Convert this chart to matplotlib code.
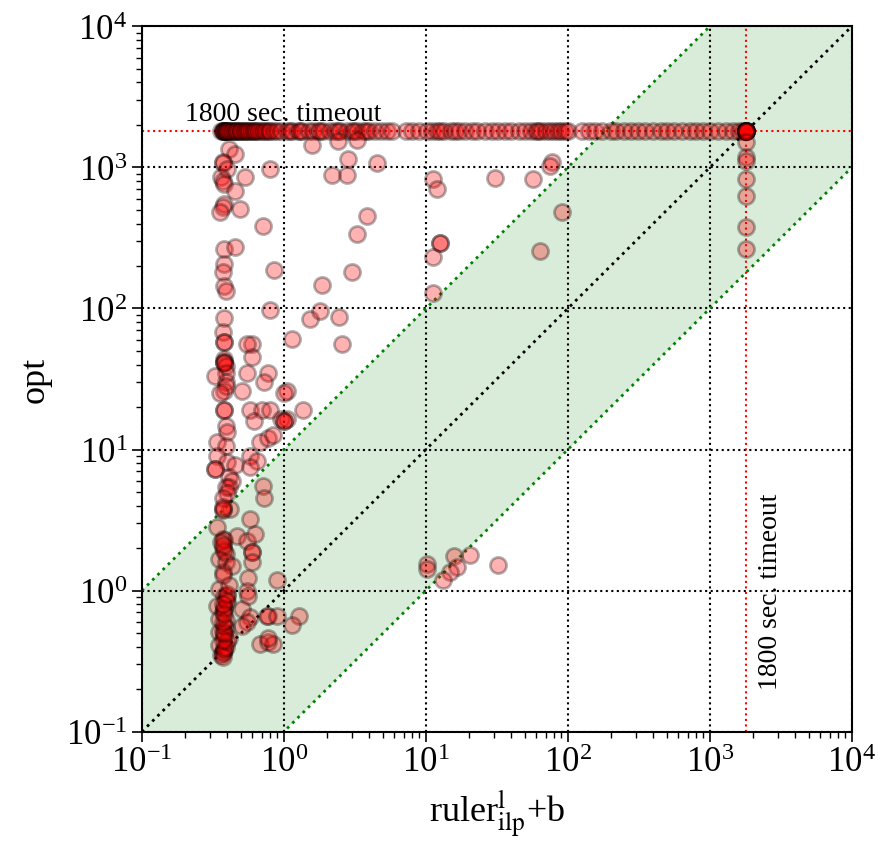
import numpy as np
import matplotlib
matplotlib.use('Agg')
import matplotlib.pyplot as plt

plt.rcParams['font.family'] = ['Liberation Serif', 'DejaVu Serif']
plt.rcParams['mathtext.fontset'] = 'stix'

TIMEOUT = 1800

# runs where opt hit the timeout (y = 1800), ruler times
top_x = [0.36, 0.37, 0.37, 0.38, 0.38, 0.38, 0.39, 0.39, 0.40, 0.40, 0.41, 0.42,
         0.43, 0.44, 0.45, 0.46, 0.47, 0.48, 0.50, 0.50, 0.52, 0.53, 0.55, 0.56,
         0.58, 0.60, 0.62, 0.63, 0.65, 0.67, 0.70, 0.72, 0.75, 0.78, 0.80, 0.85,
         0.90, 0.95, 1.05, 1.1, 1.15, 1.25, 1.3, 1.35, 1.5, 1.6, 1.75, 1.8, 1.9,
         2.1, 2.3, 2.4, 2.5, 2.8, 3.0, 3.1, 3.3, 3.6, 3.8, 4.0, 4.4, 4.8, 5.3,
         5.8, 7.2, 8.0, 9.0, 10.2, 11, 12, 12.5, 13.5, 15, 16, 17, 19, 21, 23,
         26, 29, 32, 36, 40, 45, 50, 55, 60, 62, 65, 70, 75, 80, 85, 90, 95,
         100, 125, 140, 155, 175, 200, 220, 250, 280, 310, 350, 400, 450, 500,
         560, 640, 720, 800, 900, 1000, 1150, 1300, 1450, 1600, 1700]

# runs where ruler hit its own timeout (x = 1800), opt times
right_y = [1800, 1800, 1800, 1800, 1800, 1800, 1800, 1800, 1510, 1190, 1110,
           830, 630, 380, 265]

# (ruler, opt) pairs, above 10 s for opt
upper_pts = [(0.41, 1350), (0.45, 1250), (1.58, 1440), (2.4, 1540), (3.3, 1570),
             (2.82, 1150), (4.5, 1070), (0.37, 1080), (0.37, 1100), (0.40, 975),
             (0.36, 860), (0.37, 800), (0.38, 765), (0.45, 680), (0.53, 860),
             (0.80, 975), (2.18, 885), (2.77, 885), (0.38, 550), (0.37, 525),
             (0.355, 483), (0.49, 508), (0.71, 385), (3.84, 453), (3.3, 337),
             (11.2, 828), (11.9, 703), (30.6, 841), (57, 828), (77, 1090),
             (75, 1030), (90.6, 483), (63.5, 256), (12.5, 292), (12.5, 292),
             (11.2, 232), (11.2, 129), (0.38, 264), (0.45, 273), (0.38, 207),
             (0.37, 182), (0.38, 145), (0.39, 133), (0.85, 188), (1.85, 147),
             (3.0, 182), (0.80, 98), (1.52, 84), (1.79, 96), (2.44, 87),
             (0.38, 86), (0.37, 68), (0.38, 58), (0.38, 58), (0.38, 44),
             (0.60, 56), (1.14, 61), (2.56, 56), (0.55, 56), (0.60, 45),
             (0.38, 42), (0.38, 42), (0.39, 39), (0.39, 35), (0.38, 41),
             (0.55, 35), (0.77, 35), (0.33, 33), (0.39, 30), (0.38, 26),
             (0.39, 28), (0.355, 25), (0.51, 26), (0.72, 30), (1.05, 26),
             (1.0, 25), (0.38, 19), (0.38, 19), (0.58, 19), (0.70, 19),
             (0.80, 19), (1.36, 19), (0.62, 16), (0.95, 16.5), (1.05, 16.5),
             (1.0, 16), (1.0, 16), (0.39, 14.7), (0.40, 13.4), (0.337, 11.4),
             (0.39, 10.6), (0.68, 11.4), (0.77, 12), (0.84, 12.6)]

# (ruler, opt) pairs, below 10 s for opt
lower_pts = [(0.58, 9.0), (0.65, 8.3), (0.34, 9.0), (0.40, 8.2), (0.45, 7.8),
             (0.58, 7.5), (0.33, 7.3), (0.33, 7.3), (0.41, 6.4), (0.43, 6.0),
             (0.39, 5.45), (0.41, 5.45), (0.40, 4.9), (0.71, 5.5), (0.73, 4.5),
             (0.37, 4.5), (0.42, 3.8), (0.37, 3.8), (0.37, 3.7), (0.37, 3.9),
             (0.58, 3.2), (0.34, 2.84), (0.37, 2.33), (0.47, 2.45), (0.55, 2.26),
             (0.63, 2.53), (0.37, 2.0), (0.39, 1.83), (0.60, 1.89), (0.60, 1.89),
             (0.60, 1.6), (0.35, 1.68), (0.39, 1.6), (0.43, 1.5), (0.37, 1.36),
             (0.56, 1.22), (0.89, 1.18), (0.35, 1.03), (0.38, 0.92), (0.40, 0.92),
             (0.55, 1.0), (0.56, 0.92), (0.34, 0.78), (0.38, 0.745), (0.40, 0.835),
             (0.51, 0.745), (0.58, 0.655), (0.55, 0.6), (0.51, 0.565),
             (0.77, 0.665), (0.76, 0.665), (0.89, 0.665), (1.27, 0.665),
             (1.14, 0.575), (0.35, 0.634), (0.39, 0.54), (0.35, 0.51),
             (0.38, 0.48), (0.41, 0.46), (0.35, 0.41), (0.37, 0.37),
             (0.36, 0.35), (0.68, 0.42), (0.77, 0.435), (0.84, 0.42),
             (0.77, 0.46), (0.37, 0.36), (0.38, 0.38), (0.39, 0.40),
             (0.40, 0.44), (0.37, 0.52), (0.38, 0.56), (0.39, 0.62),
             (0.37, 0.70), (0.38, 0.75), (0.39, 0.86), (0.40, 0.95),
             (0.41, 1.1), (0.37, 1.3), (0.38, 2.3), (0.36, 2.2), (0.37, 0.34),
             (0.38, 0.39), (0.37, 0.45), (0.38, 0.5), (0.37, 0.6), (0.38, 0.68),
             (0.37, 0.8), (0.38, 1.9), (0.37, 2.1),
             (10.2, 1.55), (10.2, 1.43), (15.7, 1.77), (20.4, 1.8), (16.5, 1.48),
             (14.7, 1.36), (13.2, 1.18), (32, 1.53)]

pts_x = [p[0] for p in upper_pts + lower_pts]
pts_y = [p[1] for p in upper_pts + lower_pts]

all_x = top_x + [TIMEOUT] * len(right_y) + pts_x
all_y = [TIMEOUT] * len(top_x) + right_y + pts_y

lo, hi = 0.1, 1e4
diag = np.array([lo, hi])

fig = plt.figure(figsize=(8.92, 8.53), dpi=100)
ax = fig.add_axes([0.159, 0.141, 0.796, 0.827])

# 10x band around the diagonal
ax.fill_between(diag, diag / 10, diag * 10, color='g', alpha=0.15, linewidth=0)
ax.plot(diag, diag * 10, ':', color='g', linewidth=2)
ax.plot(diag, diag / 10, ':', color='g', linewidth=2)
ax.plot(diag, diag, ':', color='k', linewidth=2)

# timeouts
ax.axhline(TIMEOUT, color='r', linestyle=':', linewidth=1.5)
ax.axvline(TIMEOUT, color='r', linestyle=':', linewidth=1.5)

ax.scatter(all_x, all_y, s=135, c='r', alpha=0.3, edgecolors='k', linewidths=2,
           zorder=3)

ax.text(0.2, 2150, '1800 sec. timeout', fontsize=20)
ax.text(2200, 0.2, '1800 sec. timeout', fontsize=20, rotation=90,
        ha='left', va='bottom')

ax.set_xscale('log')
ax.set_yscale('log')
ax.set_xlim(lo, hi)
ax.set_ylim(lo, hi)
ax.grid(True, which='major', color='k', linestyle=':', linewidth=1.5)
for sp in ax.spines.values():
    sp.set_linewidth(1.5)
ax.tick_params(which='major', labelsize=25, length=7, width=1.2)
ax.tick_params(which='minor', length=4, width=1)

ax.set_xlabel(r'ruler$^{\rm l}_{\rm ilp}$+b', fontsize=26, labelpad=6)
ax.set_ylabel('opt', fontsize=26, labelpad=10)

fig.savefig('out.png', dpi=100)
